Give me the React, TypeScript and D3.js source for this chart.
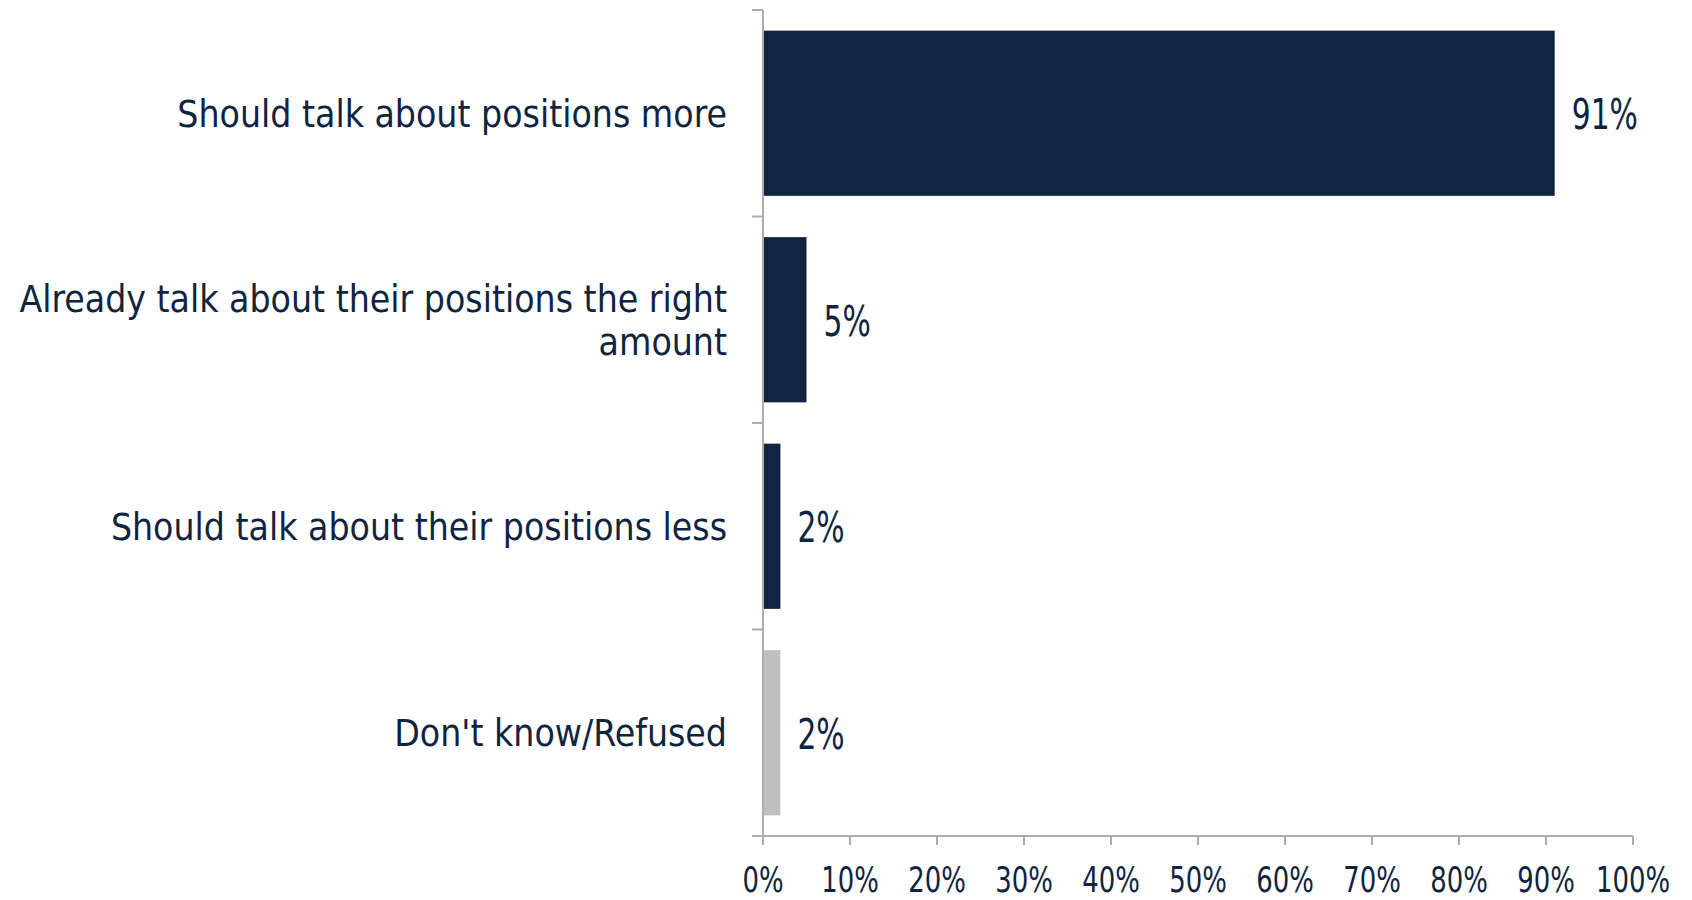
import React from "react";
import * as d3 from "d3";

const categories: string[][] = [
  ["Should talk about positions more"],
  ["Already talk about their positions the right", "amount"],
  ["Should talk about their positions less"],
  ["Don't know/Refused"],
];
const values: number[] = [0.91, 0.05, 0.02, 0.02];
const valueLabels: string[] = ["91%", "5%", "2%", "2%"];
const barColors: string[] = ["#0F2441", "#0F2441", "#0F2441", "#C0C0C0"];
const xTicks: number[] = [0, 0.1, 0.2, 0.3, 0.4, 0.5, 0.6, 0.7, 0.8, 0.9, 1.0];

const W = 1692;
const H = 900;
const TEXT = "#0F2441";
const AXIS = "#ADADB1";
const FONT = "'DejaVu Sans Condensed', 'DejaVu Sans', sans-serif";

export default function App() {
  const x = d3.scaleLinear().domain([0, 1]).range([763, 1633]);
  const keys = categories.map((_, i) => String(i));
  const y = d3.scaleBand<string>().domain(keys).range([10, 836]).paddingInner(0.2).paddingOuter(0.1);
  const step = y.step();
  const boundaries = d3.range(keys.length + 1).map((i) => 10 + i * step);
  const fmt = d3.format(".0%");

  return (
    <div style={{ position: "absolute", left: 0, top: 0 }}>
      <svg width={W} height={H} style={{ display: "block", background: "#fff" }}>
        {/* bars */}
        {values.map((v, i) => (
          <rect
            key={"b" + i}
            x={x(0)}
            y={y(keys[i])!}
            width={x(v) - x(0)}
            height={y.bandwidth()}
            fill={barColors[i]}
          />
        ))}
        {/* y axis */}
        <line x1={763} x2={763} y1={boundaries[0]} y2={boundaries[boundaries.length - 1]} stroke={AXIS} strokeWidth={2} />
        {boundaries.map((b, i) => (
          <line key={"yt" + i} x1={752} x2={763} y1={b} y2={b} stroke={AXIS} strokeWidth={2} />
        ))}
        {/* x axis */}
        <line x1={752} x2={x(1)} y1={836} y2={836} stroke={AXIS} strokeWidth={2} />
        {xTicks.map((t, i) => (
          <line key={"xt" + i} x1={x(t)} x2={x(t)} y1={836} y2={845} stroke={AXIS} strokeWidth={2} />
        ))}
        {xTicks.map((t, i) => (
          <text
            key={"xl" + i}
            transform={`translate(${x(t)},892) scale(0.8,1)`}
            textAnchor="middle"
            fontFamily={FONT}
            fontSize={36}
            fill={TEXT}
          >
            {fmt(t)}
          </text>
        ))}
        {/* category labels */}
        {categories.map((lines, i) => {
          const c = y(keys[i])! + y.bandwidth() / 2;
          const cap = 13.5;
          const sp = 43;
          return lines.map((ln, j) => {
            const by = c + cap - ((lines.length - 1) * sp) / 2 + j * sp;
            return (
              <text
                key={"c" + i + "_" + j}
                x={727}
                y={by}
                textAnchor="end"
                fontFamily={FONT}
                fontSize={37}
                fill={TEXT}
              >
                {ln}
              </text>
            );
          });
        })}
        {/* value labels */}
        {values.map((v, i) => {
          const c = y(keys[i])! + y.bandwidth() / 2;
          return (
            <text
              key={"v" + i}
              transform={`translate(${x(v) + 17},${c + 16}) scale(0.77,1)`}
              fontFamily={FONT}
              fontSize={43}
              fill={TEXT}
            >
              {valueLabels[i]}
            </text>
          );
        })}
      </svg>
    </div>
  );
}
